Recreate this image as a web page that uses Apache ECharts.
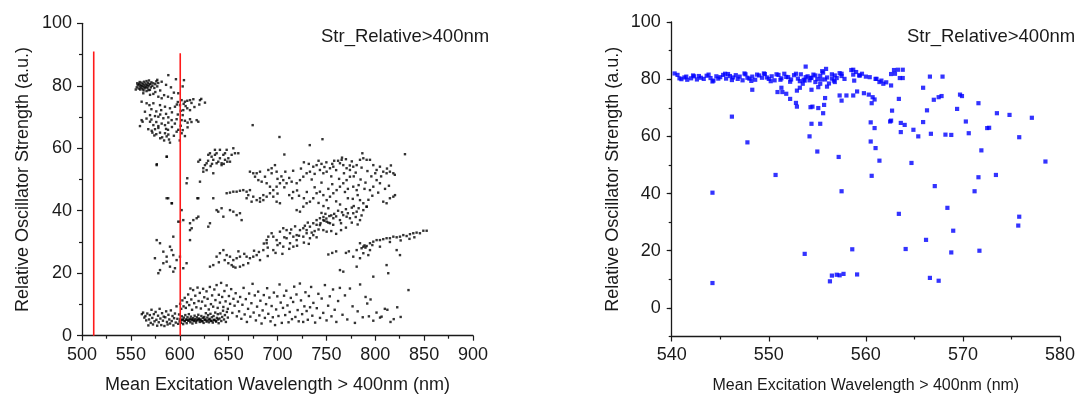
<!DOCTYPE html>
<html><head><meta charset="utf-8">
<script src="https://cdn.jsdelivr.net/npm/echarts@6/dist/echarts.min.js"></script>
<style>html,body{margin:0;padding:0;background:#fff}#c{width:1079px;height:395px}</style>
</head><body><div id="c"></div>
<script>
// ---------- DATA ----------
const titleText = 'Str_Relative>400nm';
const xName = 'Mean Excitation Wavelength > 400nm (nm)';
const yName = 'Relative Oscillator Strength (a.u.)';
const leftXTicks = [500, 900, 50];
const leftYTicks = [0, 100, 20];
const rightXTicks = [540, 580, 10];
const rightYRange = [-10, 100];
const rightYLabels = [0, 20, 40, 60, 80, 100];
const redLineX = [512, 600.5];
const redLineTop = [91, 90.4];

// left panel: upper-left blob (~555-578, 78-82)
const leftBlob = [[556,79.5],[557,80.2],[558,79.1],[558.5,80.6],[559,79.8],[559.5,78.8],[560,80.3],[560.5,79.4],[561,81],[561.5,79.9],[562,78.9],[562.5,80.5],[563,79.6],[563.5,81.3],[564,80.1],[564.5,79.2],[565,80.7],[565.5,79.7],[566,81.5],[566.5,80.2],[567,79.3],[567.5,80.9],[568,79.9],[568.5,81.7],[569,80.4],[569.5,78.7],[570,80.6],[570.5,79.5],[571,81.1],[572,80],[573,80.8],[574,79.3],[575,80.5],[576,81.4],[577,79.8],[578,80.9],[556.5,80.8],[559,81.2],[563,78.5],[566,78.3],[568,78.6],[555,78.8]];
// left panel: spread below the blob (570-626, 61-84)
const leftUpperSpread = [[588.3,83.4],[596.1,82.1],[604.3,81.8],[581.5,81.3],[577,81.9],[586,80.3],[591,79.5],[603,79.8],[562.7,77.6],[569.6,77.1],[573,77.4],[578.1,76.5],[581.5,76],[591.7,76],[598.5,77.6],[601.9,75.4],[605.3,74.9],[607.7,75.2],[610.5,75.4],[613.9,75.7],[620.7,75.4],[625.8,74.6],[561,74.9],[566.1,74.4],[569,73.8],[573,74.4],[579.8,73.8],[584.9,73.3],[590,72.8],[595.1,73.3],[600.2,73.8],[603.6,72.2],[607.7,72.8],[610.5,72.2],[604,74.2],[598,74.8],[606,73.5],[601,72],[564.4,71.7],[569.6,70.6],[574.7,70.3],[578.1,70.1],[583.2,69.6],[588.3,69.9],[591.7,69],[596.8,69.3],[601.9,69],[605.3,68.8],[610.5,69.3],[617.3,69],[619,68.5],[603,70.6],[608,68.2],[561,69],[562,68.5],[559.3,67.1],[569.6,68.5],[573,67.4],[578.1,67.1],[581.5,67.9],[584.9,67.4],[588.3,68.2],[567.8,66.1],[571.3,65.6],[574.7,66.1],[578.1,66.5],[579.8,65],[584.9,64.8],[588.3,64.4],[586.6,63.8],[596.8,65.3],[598.5,65.9],[601.9,64.8],[605.3,63.9],[589,62.8],[590,61.8],[576,64.5],[572,65],[600,62.5],[594,64],[582,63.5],[576.5,54.9],[586.8,57.3],[588.2,44],[592,42.4],[607.7,50.4],[607,48.8],[618,44],[674.6,67.4],[702,63.6],[746,62.9],[733,61],[707,58],[830.4,58.1],[786.8,58.4],
[575,78],[580,78.5],[584,77],[588,76.5],[594,77.8],[597,74],[612,74.5],[615,73.2],[620,74],[622,75.8],[571,72.5],[576,71.8],[581,72.2],[586,71],[592,71.5],[598,70.8],[566,69.5],[571,69.2],[576,68.4],[580,70.8],[586,66.2],[592,66.8],[595,67.9],[608,66.7],[612,68.4],[580,63.2],[584,62.5],[588,65.9],[574,64.1],[601,67.2],[603,65.8]];
// left panel: cluster near 620-660, 52-61
const leftClusterA = [[619,55.7],[620.7,56.3],[624.1,53.6],[625.8,54.6],[627.5,55.2],[629.2,57.9],[630.9,58.4],[632.6,57.3],[634.3,56.3],[636,57.9],[637.7,58.4],[639.4,55.7],[641.1,56.8],[642.8,54.6],[644.6,57.9],[646.3,58.4],[648,59.5],[649.7,56.8],[651.4,55.7],[653.1,57.9],[654.8,60],[656.5,58.4],[659.9,58.4],[634.3,52],[627.5,53],[624.1,52.5],[642.8,55.2],[648.6,55.7],[637.7,55.2],[631.6,54.3],[646.3,56.3],[641.1,59.5],[636,59.5],[629,56],[633,55],[645,55]];
// left panel: upper broad band (650-830, 38-57)
const leftBandB = [[648,45.6],[651.4,45.8],[654.8,46.1],[658.2,46.1],[661.6,46.4],[665,46.6],[668.4,46.1],[671.8,46.6],[670.1,45],[675.2,44.5],[678.7,43.4],[682.1,44],[685.5,45],[688.9,44.5],[692.3,45.6],[695.7,46.6],[699.1,47.7],[702.5,48.8],[705.9,49.8],[709.3,48.8],[714.5,49.3],[719.6,48.8],[723,49.8],[726.4,50.9],[729.8,52],[733.2,52.5],[736.6,54.1],[740,54.6],[743.4,53.05],[746.9,52],[750.3,52.5],[753.7,53.6],[757.1,54.1],[763.9,55.2],[765.6,56.3],[767.3,54.6],[770.7,53.6],[774.1,53.05],[777.5,54.1],[781,54.6],[784.4,56.3],[787.8,56.8],[791.2,56.3],[794.6,56.3],[798,54.6],[801.4,53.05],[804.8,54.1],[808.2,52.5],[811.6,52],[815,52.5],[818.5,52],[671.8,52.5],[675.2,52],[678.7,52],[682.1,52.5],[677,50.9],[680.4,49.8],[683.8,49.3],[687.2,50.9],[690.6,53.05],[694,53.6],[697.4,54.6],[699.1,52.5],[694,52],[688.9,48.8],[692.3,47.7],[695.7,44.5],[699.1,42.9],[702.5,42.4],[685.5,43.4],[682.1,42.9],[673.5,42.9],[668.4,44],[719.6,40.2],[723,39.7],[726.4,41.3],[729.8,42.4],[733.2,42.9],[736.6,44],[740,45.6],[743.4,46.1],[746.9,45],[750.3,43.4],[753.7,44.5],[757.1,45.6],[760.5,46.6],[763.9,47.7],[767.3,48.8],[770.7,49.8],[774.1,50.9],[777.5,47.7],[781,46.6],[784.4,43.4],[787.8,42.4],[791.2,41.3],[794.6,46.6],[798,47.7],[801.4,49.8],[804.8,48.8],[808.2,42.9],[811.6,42.4],[815,44],[818.5,44.5],[820.2,45],[735,50],[745,49],[755,51],[760,53],[768,52],[772,47],[778,51],[785,50],[790,49],[752,47],[738,47.5],[745,55],[758,56],[766,57],[776,55.8],[748,54],[730,46],[727,44],[722,44.8],[716,46],[712,45],
[700,50.2],[704,51],[708,52.5],[712,50.5],[716,52.8],[724,53.5],[727,55.5],[732,55],[738,51.8],[742,56],[750,55.5],[756,55],[762,56],[770,56.5],[774,54.5],[780,52.2],[786,53.8],[792,52.7],[796,51],[800,52],[806,51],[812,53.5],[816,54.5],[820,51.5],[742,42.5],[747,41.5],[752,40.8],[760,43],[764,42],[772,44],[777,43.8],[782,45],[797,44.8],[803,45.8],[810,47],[814,48],[756,48.5],[763,50.2],[769,46],[783,48.2],[789,47],[793,43.5],[700,45.5],[707,47.5],[715,44],[720,46.5]];
// left panel: middle diagonal band (630-792, 22-42)
const leftBandC = [[688.9,30.6],[695.7,31.7],[702.5,33.3],[705.9,34.4],[709.3,33.8],[712.8,32.8],[716.2,31.7],[719.6,30.6],[723,33.8],[726.4,34.4],[729.8,33.8],[733.2,34.9],[736.6,36],[740,37],[743.4,37.6],[746.9,37],[750.3,36.5],[753.7,36],[757.1,37.6],[763.9,37],[767.3,38.6],[770.7,38.1],[774.1,37.6],[777.5,39.2],[781,39.7],[784.4,37],[787.8,40.2],[791.2,41.3],[746.9,33.8],[743.4,35.4],[750.3,33.3],[712.8,29.6],[705.9,28.5],[699.1,30.6],[694,32.8],[690.6,31.7],[695.7,27.4],[702.5,29.6],[709.3,31.2],[719.6,32.2],[726.4,31.7],[733.2,31.2],[736.6,32.2],[729.8,32.8],[716.2,28.5],[748,36.8],[750,37.5],[752,36.2],[747,38],[755,38.5],[744,36],[758,39],[762,40],[765,36],[770,40.5],[776,41],[780,38],[742,34],[738,33.5],[735,33],[641.1,26.4],[644.6,27.4],[648,25.8],[651.4,25.3],[654.8,24.2],[649.7,23.2],[653.1,22.6],[658.2,24.8],[661.6,25.3],[668.4,25.3],[671.8,24.8],[675.2,25.3],[678.7,25.8],[682.1,24.2],[685.5,27.4],[688.9,29.6],[661.6,22.1],[665,22.6],[654.8,22.1],[637.7,25.3],[634.3,22.6],[630.9,22.1],
[700,29],[707,31.5],[714,34],[718,35],[722,32],[728,35.2],[731,36.2],[740,35.5],[745,39.3],[749,39],[753,38.3],[757,35.5],[760,38.2],[766,39.5],[772,39.2],[778,41.5],[783,40.8],[786,38.5],[690,28.2],[686,29.5],[681,26.8],[676,27.2],[666,26.2],[660,27],[646,24.2],[640,23.5],[657,21.8],[670,23.2],[690,25.5],[698,26.5],[705,26.2],[712,27.8],[720,28.8],[727,29.8],[732,29.4],[740,31.5],[755,33.5],[760,32.6],[765,33.8],[770,34.6],[776,36.2],[782,35.6]];
// left panel: right band (777-853, 25-34) and sparse points
const leftBandD = [[781,27.4],[784.4,29.6],[787.8,28.5],[791.2,28.7],[794.6,29.6],[798,30.1],[801.4,30.6],[804.8,30.6],[808.2,30.9],[811.6,31.2],[815,31.2],[818.5,31.7],[821.9,31.5],[825.3,31.7],[828.7,32.2],[832.1,31.9],[835.5,32.5],[838.9,32.8],[842.3,33],[845.7,32.8],[849.2,33.6],[852.6,33.6],[787.8,26.4],[794.6,27.4],[804.8,28.5],[777.5,25.3],[784.4,24.8],[792.9,25.8],[786,28],[789,28.9],[790,28.2],[797,29],[815,30],[826,30.5],[835,31],[840,31.5],[763.9,21],[767.3,20.5],[781,22.1],[798,18.9],[811.6,22.6],[813.3,20],[821.9,27.4],[825.3,25.8],[770,26.5],[773,27],[756,26.5],[760,27],[752,26]];
// left panel: cluster near the 600 line (575-665, 20-45)
const leftClusterE = [[576.4,30.6],[579.8,29.6],[583.2,26.9],[586.6,25.3],[590,28.5],[591.7,27.4],[593.4,25.8],[586.6,23.7],[583.2,23.2],[590,22.1],[593.4,20.5],[595.1,21.6],[596.8,24.2],[579.8,21],[574.6,24.8],[578.1,20],[600.2,25.3],[603.6,21.6],[607,23.2],[610.5,30.6],[593.4,31.7],[600.2,36.5],[603.6,37],[610.5,36],[613.9,37],[617.3,37.6],[619,38.1],[612.2,34.4],[610.5,33.8],[630.9,36],[629.2,34.9],[637.7,40.2],[639.4,39.7],[642.8,40.8],[654.8,39.7],[658.2,38.6],[661.6,39.2],[663.3,37],[644.6,38.1],[651.4,40.2],[619,44],[634.3,44],[586.6,44],[591.7,42.4],[576.4,54.6],[586.6,57.3],[620.7,49.3],[601.9,40.2],[598.5,36.5]];
// left panel: low band (560-835, 3-17)
const leftLow = [[561.2,6.9],[562.5,7.4],[563.8,5.8],[564.9,6.3],[565.7,4.9],[566.8,7.1],[567.9,3.3],[568.6,5.2],[569.4,6.6],[570.3,4.1],[571.1,8.3],[571.9,5.7],[572.6,3.6],[573.5,6.9],[574.2,4.6],[575.3,7.6],[576.1,5.1],[576.9,3.2],[577.8,6.4],[578.5,4.3],[579.4,8.6],[580.2,5.5],[581.1,3.4],[581.9,7.2],[582.8,4.8],[583.6,6.1],[584.3,3.1],[585.2,5.9],[586.1,7.8],[586.9,4.4],[587.6,3.6],[588.4,6.7],[589.3,5.2],[590.1,3.9],[590.9,8.1],[591.8,4.7],[592.6,6.3],[593.5,3.3],[594.2,5.6],[595.1,7.1],[595.9,4.2],[596.7,9.4],[597.6,5.4],[598.4,3.8],[599.3,6.8],[599.9,4.6],
[600.6,5.3],[601.3,4.1],[602.1,6.2],[602.8,5.0],[603.5,3.7],[604.2,5.8],[604.9,4.6],[605.7,6.6],[606.4,5.2],[607.1,4.0],[607.9,5.9],[608.6,4.8],[609.3,6.9],[610.1,5.4],[610.8,4.3],[611.5,6.1],[612.3,5.0],[613.0,3.9],[613.8,5.6],[614.5,4.7],[615.2,6.4],[616.0,5.3],[616.7,4.2],[617.5,5.9],[618.2,4.9],[619.0,6.7],[619.7,5.5],[620.5,4.4],[621.3,5.2],[622.1,6.3],[622.8,4.6],[623.6,5.7],[624.4,4.1],[625.1,6.0],[625.9,5.1],[626.7,7.2],[627.4,4.5],[628.2,5.8],[629.0,6.6],[629.8,4.3],[630.6,5.4],[631.4,7.0],[632.1,4.8],[632.9,5.9],[633.8,4.2],[634.6,6.3],[635.5,5.1],[636.3,7.4],[637.2,4.5],[638.0,5.7],[638.9,6.9],[639.8,4.0],[640.7,5.5],[641.6,7.1],[642.5,4.7],[643.4,6.0],[644.3,8.0],[645.3,5.2],[646.2,6.6],[647.2,4.4],[648.2,7.6],[649.2,5.8],
[600.9,4.9],[603.1,5.2],[605.2,4.8],[607.5,5.1],[609.8,4.9],[612.0,5.3],[614.2,5.0],[616.4,4.8],[618.6,5.2],[620.9,5.0],[623.2,4.7],[625.5,5.2],[627.8,4.9],[630.1,5.1],[632.4,4.7],[634.8,5.0],[637.0,4.8],[639.3,5.2],
[600.4,10.2],[601.5,8.6],[602.7,11.3],[603.9,9.4],[605.1,12.1],[606.2,8.9],[607.4,10.7],[608.6,13.2],[609.7,9.8],[610.9,15.1],[611.8,11.6],[612.6,8.3],[613.7,14.6],[614.8,10.4],[615.9,12.8],[617.0,9.1],[618.2,15.4],[619.3,11.1],[620.5,13.7],[621.6,8.7],[622.8,10.9],[623.9,15.0],[625.1,12.3],[626.2,9.6],[627.4,14.2],[628.5,11.8],[629.7,8.4],[630.8,15.6],[631.9,10.1],[633.1,12.9],[634.2,9.3],[635.4,14.8],[636.5,11.4],[637.7,16.2],[638.8,8.9],[640.0,13.1],[641.1,10.6],[642.3,16.9],[643.4,12.4],[644.6,9.2],[645.7,14.3],[646.9,11.0],[648.0,16.1],[649.2,8.6],[650.3,12.7],[651.5,10.2],[652.6,14.9],[653.8,7.3],[654.9,11.8],[656.1,9.6],[657.2,13.6],[658.4,6.2],[659.5,10.9],
[660.7,7.8],[661.8,12.4],[663.0,5.4],[664.1,9.9],[665.3,15.3],[666.4,6.8],[667.6,11.7],[668.7,4.4],[669.9,8.6],[671.0,13.5],[672.2,6.1],[673.3,10.4],[674.5,16.6],[675.6,7.4],[676.8,12.9],[677.9,4.9],[679.1,9.3],[680.2,14.1],[681.4,6.5],[682.5,11.2],[683.7,3.9],[684.8,8.1],[686.0,13.0],[687.1,5.7],[688.3,10.1],[689.4,15.2],[690.6,7.0],[691.7,12.2],[692.9,4.6],[694.0,9.5],[695.2,5.9],[696.3,13.8],[697.5,3.4],[698.6,8.4],[699.8,12.6],[701.0,6.3],[702.1,16.4],[703.3,10.6],[704.4,4.1],[705.6,8.9],[706.7,12.8],[707.9,6.6],[709.0,14.4],[710.2,9.7],[711.3,4.3],[712.5,7.6],[713.6,12.1],[714.8,5.3],[716.0,10.8],[717.1,15.7],[718.3,6.0],[719.4,13.2],[720.6,8.2],[721.7,4.6],[722.9,16.7],[724.0,11.3],[725.2,6.9],[726.3,4.4],[727.5,9.4],[728.6,13.9],[729.8,7.9],[731.0,5.1],[732.1,12.7],[733.3,9.1],[734.4,15.6],[735.6,6.4],[736.7,10.5],[738.5,4.2],[740.2,8.8],[741.8,13.4],[743.5,5.7],[745.2,11.9],[746.8,7.3],[748.5,16.2],[750.2,4.9],[751.8,9.6],[753.5,12.6],[755.2,6.2],[756.8,14.8],[758.5,8.3],[760.2,4.4],[762.0,11.1],[763.8,15.3],
[766.5,6.7],[769.0,12.9],[771.4,5.2],[774.1,15.1],[776.8,9.4],[779.2,4.1],[782.0,7.8],[784.5,16.4],[787.2,5.9],[790.1,12.4],[791.8,10.3],[793.5,6.2],[795.2,11.6],[798.0,4.8],[801.3,7.4],[804.9,5.8],[806.5,6.1],[809.8,8.6],[812.4,8.3],[815.6,4.4],[818.9,5.3],[822.5,9.1],[826.0,6.0],[834.0,14.6]];

// right panel: dense band near 80
const rightBand = [[540.3,82],[540.6,81.5],[541,80],[541.3,80.6],[541.6,79.8],[542,80.3],[542.3,81],[542.6,79.9],[543,80.5],[543.3,80.1],[543.6,81.2],[544,80.4],[544.3,79.5],[544.6,81],[545,80.7],[545.3,81.5],[545.6,80.2],[546,81.1],[546.3,80.6],[546.6,81.4],[547,80.9],[547.3,79.6],[547.6,81.7],[548,80.2],[548.3,80.9],[548.6,79.8],[549,81.3],[549.3,80.5],[549.6,81.8],[550,80.1],[550.3,81],[550.6,79.6],[551,81.5],[551.3,80.3],[551.6,81.9],[552,80.7],[552.3,79.9],[552.6,81.4],[553,80.2],[553.3,81.7],[553.6,79.8],[554,81],[554.3,80.4],[554.6,81.6],[555,80],[555.3,81.2],[555.6,82.3],[556,80.6],[541.5,80.9],[542.8,81.1],[544.8,80.2],[545.8,81.8],[546.8,80.1],[547.8,80.5],[548.8,81.6],[549.8,80.6],[550.8,81.7],[551.8,80.8],[552.8,81.9],[553.8,80.7],[554.8,81.3],[555.8,79.9],[550.2,79.3],[551.2,79.8],[548.2,79.4],[546.2,79.7],[544.2,79.2],[552.2,79.1],[553.2,79.3],[554.2,79.6],[549.5,82],[547.5,82],[545.5,81.9],[543.8,81.6],[542.2,81.3],[540.8,80.3],[555.5,82.8],[556.5,80.2],[557,80.4],[557.5,81.1],[556.8,79],[556.2,78.5],[553.8,84.4],[555.9,83.6],[558.7,83.3],[563.3,83.3],[563.8,83.3],[563,81.9],[563.8,80.4],[562.6,77.8],[562.1,78.9],[561.6,79.5],[561,80.1],[560.4,80.7],[558.8,79.5],[559,82.5],[559.4,81.3],[559.6,81.9],[557.8,80.1],[557.5,81.9],[556.7,79.5],[556.8,81.3],[556,77.4],[555.3,78.4],[555.1,77.2],[554.8,79],[555.4,79.9],[554.4,80.5],[553.5,78.4],[553.7,79.5],[553.2,77],[556.5,81.7],[557.3,82.1],[558.5,83.2],[558.7,81.6],[559.3,81.3],[560,80.9],[561.1,80.1],[561.4,79],[561.8,78.4],[562.6,81.8],[562.9,83.2],[563.5,80.4]];
// right panel: scattered points below the band
const rightScatter = [[544.2,40.3],[544.2,8.7],[546.2,66.9],[547.8,57.9],[550.7,46.5],[553.7,18.9],[554.2,60],[555,54.7],[554.4,64.4],[555.3,64.4],[555.6,68.1],[555.7,71],[555.8,73.4],[554.3,70.2],[554.5,70.4],[555.1,69.9],[552.9,70.4],[552.8,71.7],[552.2,73.1],[551.8,74.9],[551.4,75.5],[550.9,75.5],[551.3,77],[548.3,76.3],[552.9,76],[554.4,76.3],[556.3,9.3],[556.5,11.3],[557,11.6],[557.3,11.4],[557.7,11.9],[559.1,11.7],[557.2,52.8],[557.5,40.8],[558.6,20.5],[557.3,74.3],[557.5,72.5],[558,74.3],[558.7,74.3],[559.1,75.7],[559.8,75.1],[560.3,74.6],[560.6,71.6],[560.7,73.7],[560.9,72.9],[560.5,64.9],[560.9,62.9],[560.5,58.2],[561,55.9],[561.4,51.5],[560.6,46.2],[562.7,69],[562.6,65.5],[562.5,65.2],[563.4,73.1],[563.6,64.7],[563.6,61.5],[564,64],[564.9,62.3],[564.7,50.7],[563.4,32.9],[564.1,20.6],[565.4,60],[565.9,65],[566.3,69.1],[565.9,77],[566.6,80.9],[566.7,60.9],[567.1,42.6],[566.2,23.8],[566.6,10.5],[567.5,9.5],[567,72.8],[567.5,73.7],[567.8,74.1],[567.9,80.9],[568.2,60.6],[568.8,60.5],[568.4,35],[569,27],[568.8,19.4],[569.4,69.6],[569.7,74.6],[569.9,74.1],[570.3,65.2],[570.6,61.1],[571.2,40.8],[571.6,71.6],[571.6,45.7],[571.9,55.1],[571.7,20],[572.5,62.9],[572.7,63],[573.4,46.5],[573.5,68.1],[574.8,67.5],[575.8,59.7],[575.8,31.9],[575.7,28.8],[577.1,66.5],[578.5,51.2],[580.2,31.1],[580.2,23.2]];

// ---------- CHART ----------
const leftPoints = [].concat(leftBlob, leftUpperSpread, leftClusterA, leftBandB, leftBandC, leftBandD, leftClusterE, leftLow);
const rightPoints = [].concat(rightBand, rightScatter);

const FONT = 'Liberation Sans, Arial, sans-serif';
const AX = '#1a1a1a';
function axisCommon(fs) {
  return {
    axisLine: { show: true, onZero: false, lineStyle: { color: AX, width: 1.3 } },
    axisTick: { show: true, inside: false, length: 5, lineStyle: { color: AX, width: 1.2 } },
    minorTick: { show: true, splitNumber: 2, length: 3, lineStyle: { color: AX, width: 1.2 } },
    splitLine: { show: false },
    axisLabel: { color: AX, fontSize: 18, fontFamily: FONT, margin: 10 },
    nameTextStyle: { color: AX, fontSize: fs, fontFamily: FONT }
  };
}

const chart = echarts.init(document.getElementById('c'), null, { renderer: 'canvas' });
chart.setOption({
  backgroundColor: '#fff',
  animation: false,
  title: [
    { text: titleText, left: 316, top: 22, textStyle: { fontSize: 18.5, fontWeight: 'normal', color: AX, fontFamily: FONT } },
    { text: titleText, left: 902, top: 22, textStyle: { fontSize: 18.5, fontWeight: 'normal', color: AX, fontFamily: FONT } }
  ],
  grid: [
    { left: 82, top: 23.3, width: 391, height: 312.4, outerBoundsMode: 'none', containLabel: false },
    { left: 671.7, top: 22, width: 388.3, height: 314.5, outerBoundsMode: 'none', containLabel: false }
  ],
  xAxis: [
    Object.assign(axisCommon(18), { type: 'value', gridIndex: 0, min: leftXTicks[0], max: leftXTicks[1], interval: leftXTicks[2], name: xName, nameLocation: 'middle', nameGap: 40 }),
    Object.assign(axisCommon(16), { type: 'value', gridIndex: 1, min: rightXTicks[0], max: rightXTicks[1], interval: rightXTicks[2], name: xName, nameLocation: 'middle', nameGap: 41 })
  ],
  yAxis: [
    Object.assign(axisCommon(18), { type: 'value', gridIndex: 0, position: 'left', min: leftYTicks[0], max: leftYTicks[1], interval: leftYTicks[2], name: yName, nameLocation: 'middle', nameGap: 50 }),
    Object.assign(axisCommon(18), {
      type: 'value', gridIndex: 1, position: 'left', min: rightYRange[0], max: rightYRange[1], interval: 10,
      name: yName, nameLocation: 'middle', nameGap: 50,
      axisLabel: { color: AX, fontSize: 18, fontFamily: FONT, margin: 11, customValues: rightYLabels },
      axisTick: { show: true, length: 5, customValues: rightYLabels, lineStyle: { color: AX, width: 1.2 } },
      minorTick: { show: false }
    }),
    {
      type: 'value', gridIndex: 1, position: 'left', min: rightYRange[0], max: rightYRange[1], interval: 10,
      axisLine: { show: false }, axisLabel: { show: false }, splitLine: { show: false },
      axisTick: { show: true, length: 3, lineStyle: { color: AX, width: 1.2 } }
    }
  ],
  series: [
    { type: 'scatter', xAxisIndex: 0, yAxisIndex: 0, data: leftPoints, symbol: 'rect', symbolSize: 2.4, itemStyle: { color: '#000' }, silent: true },
    { type: 'line', xAxisIndex: 0, yAxisIndex: 0, data: [[redLineX[0], 0], [redLineX[0], redLineTop[0]]], symbol: 'none', lineStyle: { color: '#ff1a1a', width: 1.6 }, silent: true },
    { type: 'line', xAxisIndex: 0, yAxisIndex: 0, data: [[redLineX[1], 0], [redLineX[1], redLineTop[1]]], symbol: 'none', lineStyle: { color: '#ff1a1a', width: 1.6 }, silent: true },
    { type: 'scatter', xAxisIndex: 1, yAxisIndex: 1, data: rightPoints, symbol: 'rect', symbolSize: 4.2, itemStyle: { color: '#0000ff' }, silent: true }
  ]
});
</script></body></html>
